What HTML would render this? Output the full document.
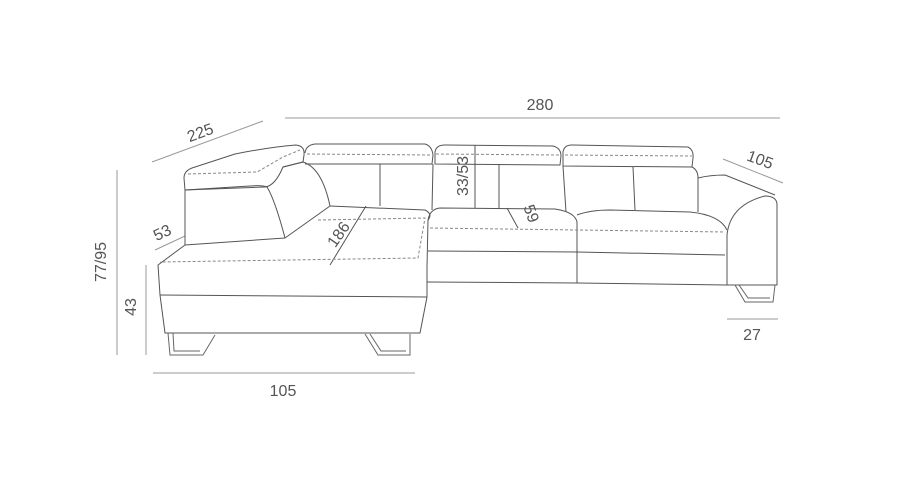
<!DOCTYPE html>
<html><head><style>html,body{margin:0;padding:0;background:#fff;}svg{display:block}</style></head>
<body>
<svg width="904" height="493" viewBox="0 0 904 493" xmlns="http://www.w3.org/2000/svg" font-family="Liberation Sans, sans-serif">
<g stroke="#999" stroke-width="1" fill="none">
<line x1="285" y1="118" x2="780" y2="118"/>
<line x1="152" y1="162" x2="263" y2="121"/>
<line x1="155" y1="250" x2="185" y2="236"/>
<line x1="117" y1="170" x2="117" y2="355"/>
<line x1="146" y1="265" x2="146" y2="355"/>
<line x1="153" y1="373" x2="415" y2="373"/>
<line x1="723" y1="159" x2="783" y2="183"/>
<line x1="727" y1="319" x2="778" y2="319"/>
</g>
<g fill="#555" font-size="16">
<text x="540" y="110" text-anchor="middle">280</text>
<text x="200" y="138" text-anchor="middle" transform="rotate(-20 200 132)">225</text>
<text x="162" y="238" text-anchor="middle" transform="rotate(-25 162 232)">53</text>
<text x="106" y="262" text-anchor="middle" transform="rotate(-90 106 262)">77/95</text>
<text x="136" y="307" text-anchor="middle" transform="rotate(-90 136 307)">43</text>
<text x="283" y="396" text-anchor="middle">105</text>
<text x="760" y="165" text-anchor="middle" transform="rotate(20 760 160)">105</text>
<text x="752" y="340" text-anchor="middle">27</text>
<text x="468" y="176" text-anchor="middle" transform="rotate(-90 468 176)">33/53</text>
<text x="338" y="240" text-anchor="middle" transform="rotate(-55 338 234)">186</text>
<text x="530" y="218" text-anchor="middle" transform="rotate(70 530 214)">59</text>
</g>
<g stroke="#555" stroke-width="1" fill="none" stroke-linejoin="round">
<path d="M185,190 L184,178 Q184,171 192,168 L235,154 Q270,147 296,145 Q305,146 304,155 L303,162 L283,167 Q275,186 265,187 Z"/>
<path d="M185,190 L185,245 L285,238 Q275,200 267,187 Q262,185 250,186 Z"/>
<path d="M283,167 L303,162 Q322,168 330,206 L285,238"/>
<path d="M305,153 Q306,145 315,144 L425,144 Q432,146 433,155 L432,164 L305,164"/>
<line x1="380" y1="164" x2="380" y2="206"/>
<path d="M330,206 L425,210 Q433,214 428,220 L427,267 L427,297 L420,333 L165,333 L160,295 L158,265 L185,245"/>
<path d="M160,295 L427,297"/>
<line x1="330" y1="265" x2="366" y2="206"/>
<path d="M435,164 L435,152 Q436,145 445,145 L553,146 Q561,148 561,156 L560,165 Z"/>
<path d="M563,166 L563,152 Q564,145 572,145 L688,147 Q694,150 693,158 L692,167 Z"/>
<path d="M433,164 L432,210 M499,165 L499,208 M475,145 L475,208 M563,166 L566,212 M633,167 L635,210 M692,167 Q698,170 698,178 L698,212"/>
<path d="M428,220 Q430,209 440,208 L555,209 Q575,212 577,222 L577,283 M577,215 Q590,210 610,210 L690,212 Q720,215 727,230"/>
<path d="M428,251 L577,252 L725,255"/>
<path d="M427,282 L577,283 L727,285"/>
<line x1="507" y1="208" x2="518" y2="228"/>
<path d="M698,178 Q710,175 725,175 L775,195"/>
<path d="M727,285 L727,235 Q730,205 765,196 Q777,196 777,205 L777,285 L727,285"/>
</g>
<g stroke="#888" stroke-width="1" fill="none" stroke-dasharray="3,2">
<path d="M188,174 L257,172 L283,157 L300,150"/>
<path d="M307,154 L432,155"/>
<path d="M436,154 L560,155"/>
<path d="M565,155 L692,156"/>
<path d="M318,220 L425,218 L418,258 L160,262"/>
<path d="M430,228 L577,230 L725,232"/>
</g>
<g stroke="#666" stroke-width="1" fill="none">
<path d="M168,333 L170,355 L203,355 L215,335"/>
<path d="M173,333 L174,351 L200,351"/>
<path d="M365,334 L378,355 L410,355 L410,334"/>
<path d="M370,334 L381,351 L406,351"/>
<path d="M735,285 L745,302 L773,302 L775,285"/>
<path d="M739,285 L748,298 L770,298"/>
</g>
</svg>
</body></html>
